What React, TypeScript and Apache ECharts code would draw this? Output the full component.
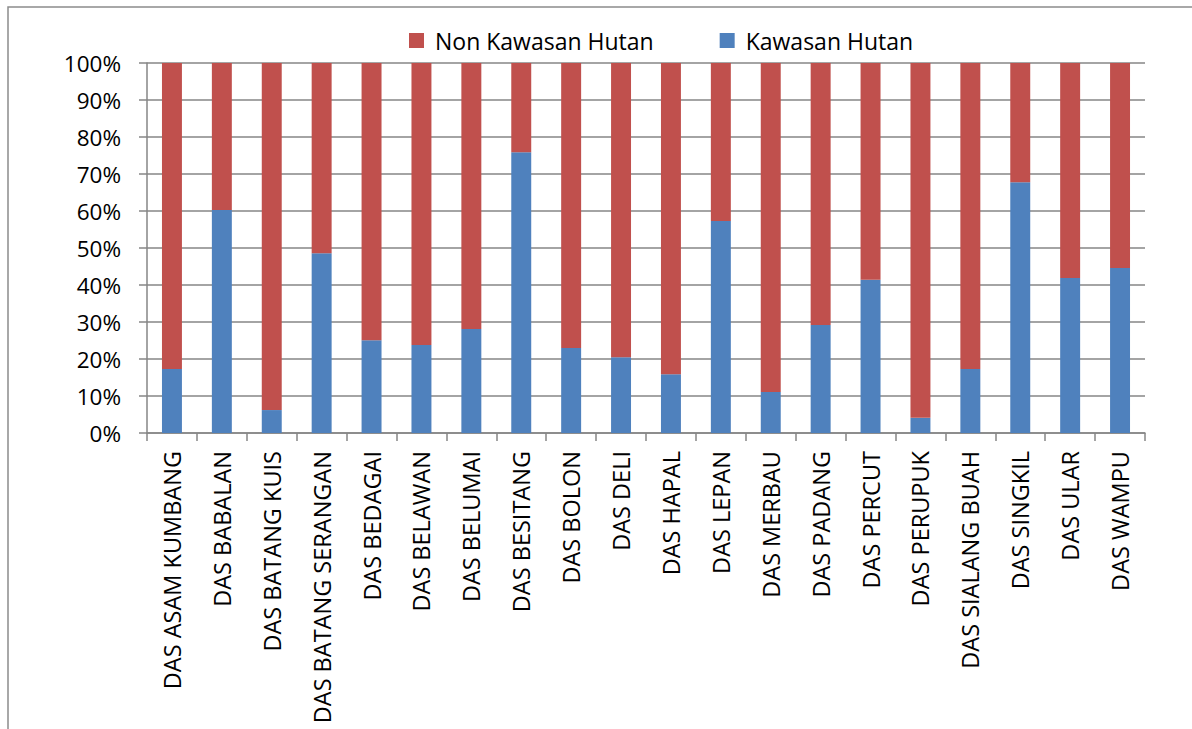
import React, { useEffect, useRef } from "react";
import * as echarts from "echarts";

const categories = [
  "DAS ASAM KUMBANG", "DAS BABALAN", "DAS BATANG KUIS", "DAS BATANG SERANGAN", "DAS BEDAGAI",
  "DAS BELAWAN", "DAS BELUMAI", "DAS BESITANG", "DAS BOLON", "DAS DELI",
  "DAS HAPAL", "DAS LEPAN", "DAS MERBAU", "DAS PADANG", "DAS PERCUT",
  "DAS PERUPUK", "DAS SIALANG BUAH", "DAS SINGKIL", "DAS ULAR", "DAS WAMPU",
];
const kawasanHutan = [17.3, 60.3, 6.2, 48.6, 25.1, 23.8, 28.1, 75.9, 23.0, 20.5, 15.9, 57.3, 11.1, 29.2, 41.4, 4.1, 17.3, 67.8, 41.9, 44.6];
const nonKawasanHutan = [82.7, 39.7, 93.8, 51.4, 74.9, 76.2, 71.9, 24.1, 77.0, 79.5, 84.1, 42.7, 88.9, 70.8, 58.6, 95.9, 82.7, 32.2, 58.1, 55.4];
const legendNames = ["Non Kawasan Hutan", "Kawasan Hutan"];

const FONT = "'Open Sans', 'Noto Sans', sans-serif";

export default function App() {
  const ref = useRef<HTMLDivElement>(null);
  useEffect(() => {
    const chart = echarts.init(ref.current!, null, { renderer: "svg" });
    chart.setOption({
      animation: false,
      textStyle: { fontFamily: FONT },
      graphic: [
        {
          type: "rect",
          shape: { x: 8, y: 7, width: 1400, height: 1000 },
          style: { fill: "none", stroke: "#8c8c8c", lineWidth: 1.5 },
          silent: true,
        },
      ],
      legend: {
        data: legendNames,
        left: 404,
        top: 24,
        itemWidth: 15,
        itemHeight: 15,
        itemGap: 66,
        icon: "rect",
        textStyle: { fontSize: 23, color: "#000", fontFamily: FONT, padding: [0, 0, 0, 6] },
      },
      grid: { left: 147, right: 47, top: 63, bottom: 296, containLabel: false },
      xAxis: {
        type: "category",
        data: categories,
        axisLine: { lineStyle: { color: "#868686", width: 1.5 } },
        axisTick: { show: true, length: 8, lineStyle: { color: "#868686", width: 1.5 } },
        axisLabel: { rotate: 90, interval: 0, margin: 18, fontSize: 23.5, color: "#000", fontFamily: FONT },
      },
      yAxis: {
        type: "value",
        min: 0,
        max: 100,
        interval: 10,
        axisLine: { show: true, lineStyle: { color: "#868686", width: 1.5 } },
        axisTick: { show: true, length: 8, lineStyle: { color: "#868686", width: 1.5 } },
        splitLine: { lineStyle: { color: "#868686", width: 1.5 } },
        axisLabel: { formatter: "{value}%", fontSize: 22.5, color: "#000", margin: 26, fontFamily: FONT },
      },
      series: [
        {
          name: "Kawasan Hutan",
          type: "bar",
          stack: "total",
          data: kawasanHutan,
          barWidth: "40%",
          itemStyle: { color: "#4F81BD" },
        },
        {
          name: "Non Kawasan Hutan",
          type: "bar",
          stack: "total",
          data: nonKawasanHutan,
          barWidth: "40%",
          itemStyle: { color: "#C0504D" },
        },
      ],
    });
    return () => chart.dispose();
  }, []);
  return (
    <div
      ref={ref}
      style={{ position: "fixed", left: 0, top: 0, width: 1192, height: 729, background: "#fff" }}
    />
  );
}
